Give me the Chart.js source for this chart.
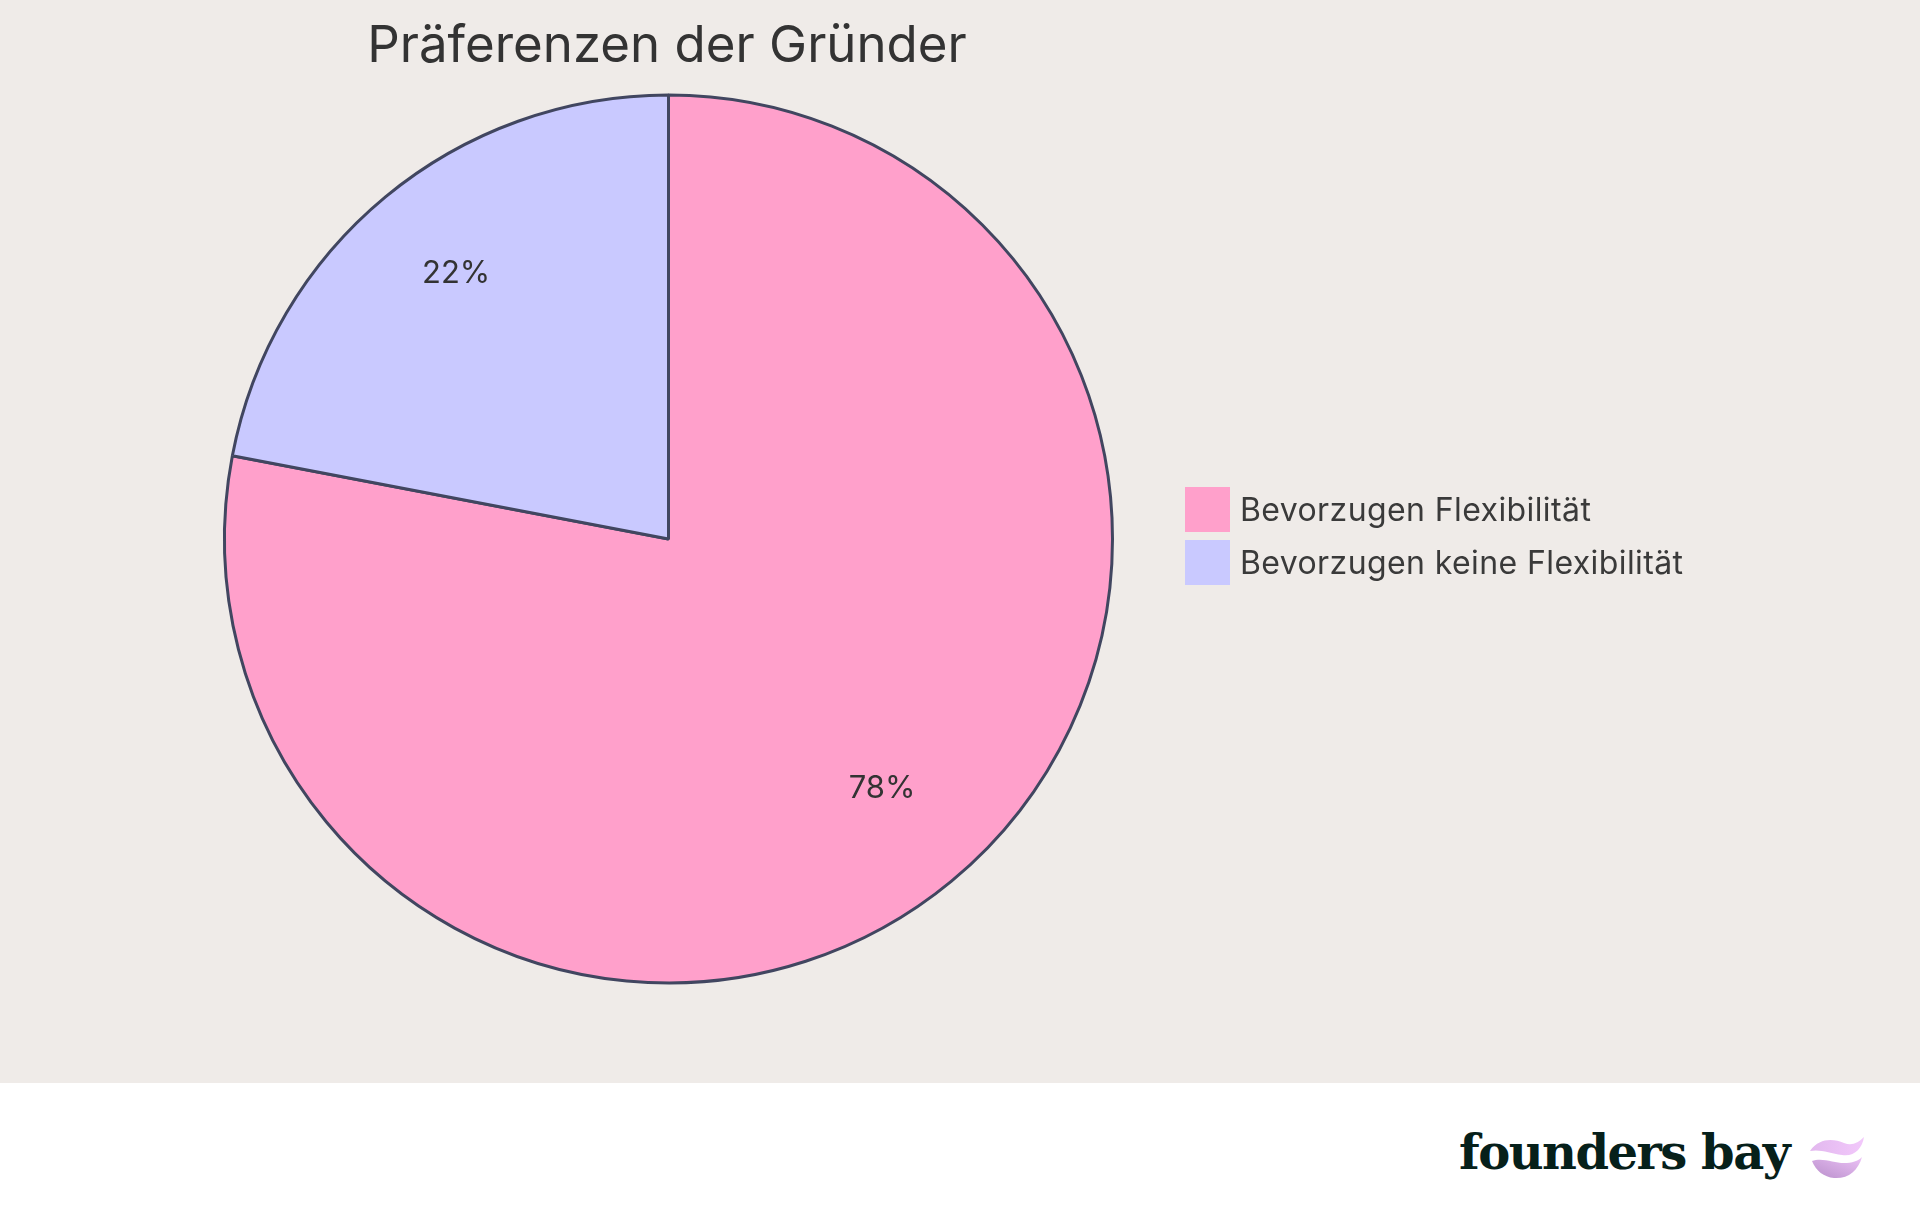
<!DOCTYPE html>
<html>
<head>
<meta charset="utf-8">
<script src="https://cdn.jsdelivr.net/npm/chart.js@4.4.0/dist/chart.umd.min.js"></script>
<style>
    html, body { margin: 0; padding: 0; background: #ffffff; }
    #wrap { position: relative; width: 1920px; height: 1215px; overflow: hidden; font-family: Inter, "Noto Sans", sans-serif; }
    #plot { position: absolute; left: 0; top: 0; width: 1920px; height: 1083px; background: #efebe8; }
    #title { position: absolute; left: 0; width: 1334px; top: 13px; text-align: center; font-size: 51px; color: #333333; white-space: nowrap; }
    #legend { position: absolute; left: 1185px; top: 483px; }
    .item { display: flex; align-items: center; height: 53px; font-size: 32px; letter-spacing: 0.4px; color: #3a3a3a; white-space: nowrap; }
    .box { width: 45px; height: 45px; margin-right: 10px; }
    #logo { position: absolute; left: 1459px; top: 1124px; font-family: "DejaVu Serif", serif; font-weight: bold; font-size: 48px; color: #06201a; letter-spacing: -1.5px; white-space: nowrap; }
    #wave { position: absolute; left: 1808px; top: 1135px; }
</style>
</head>
<body>
<div id="wrap">
    <div id="plot"><canvas id="chart" width="1920" height="1083"></canvas></div>
    <div id="title">Präferenzen der Gründer</div>
    <div id="legend"></div>
    <div id="logo">founders bay</div>
    <svg id="wave" width="58" height="46" viewBox="0 0 58 46">
        <defs>
            <linearGradient id="g1" x1="0" y1="0" x2="1" y2="0">
                <stop offset="0" stop-color="#e2b8ee"/>
                <stop offset="1" stop-color="#f2c8fb"/>
            </linearGradient>
            <linearGradient id="g2" x1="0" y1="1" x2="1" y2="0">
                <stop offset="0" stop-color="#b98fcb"/>
                <stop offset="1" stop-color="#ecc2f6"/>
            </linearGradient>
        </defs>
        <path d="M2 16 C12 2, 26 4, 36 8 C44 11, 50 8, 56 2 C54 14, 46 22, 34 20 C22 18, 12 14, 2 16 Z" fill="url(#g1)"/>
        <path d="M4 26 C14 22, 26 28, 36 28 C44 28, 50 26, 54 22 C50 36, 40 44, 26 43 C16 42, 8 36, 4 26 Z" fill="url(#g2)"/>
    </svg>
</div>
<script>
const labels = ['Bevorzugen Flexibilität', 'Bevorzugen keine Flexibilität'];
const values = [78, 22];
const sliceColors = ['#ffa0cb', '#c9c9ff'];

// how far out the percent text sits, as share of the radius
const labelRadius = [0.73, 0.775];

// percent labels inside the slices
const pctLabels = {
    id: 'pctLabels',
    afterDatasetsDraw(chart) {
        const ctx = chart.ctx;
        const meta = chart.getDatasetMeta(0);
        const total = values.reduce((a, b) => a + b, 0);
        ctx.save();
        ctx.font = '31px Inter, "Noto Sans", sans-serif';
        ctx.fillStyle = '#333333';
        ctx.textAlign = 'center';
        ctx.textBaseline = 'middle';
        meta.data.forEach((arc, i) => {
            const mid = (arc.startAngle + arc.endAngle) / 2;
            const r = arc.outerRadius * labelRadius[i];
            const x = arc.x + Math.cos(mid) * r + 7;
            const y = arc.y + Math.sin(mid) * r;
            ctx.fillText(Math.round(values[i] / total * 100) + '%', x, y);
        });
        ctx.restore();
    }
};

let chart = new Chart(document.getElementById('chart'), {
    type: 'pie',
    data: {
        labels: labels,
        datasets: [{
            data: values,
            backgroundColor: sliceColors,
            borderColor: '#414660',
            borderWidth: 3,
        }]
    },
    options: {
        responsive: false,
        animation: false,
        layout: {
            padding: { top: 93, bottom: 98, left: 223, right: 806 }
        },
        plugins: {
            legend: { display: false },
            title: { display: false },
            tooltip: { enabled: false },
        }
    },
    plugins: [pctLabels]
});

// html legend
const legendEl = document.getElementById('legend');
labels.forEach((name, i) => {
    const row = document.createElement('div');
    row.className = 'item';
    const box = document.createElement('div');
    box.className = 'box';
    box.style.background = sliceColors[i];
    row.appendChild(box);
    row.appendChild(document.createTextNode(name));
    legendEl.appendChild(row);
});
</script>
</body>
</html>
